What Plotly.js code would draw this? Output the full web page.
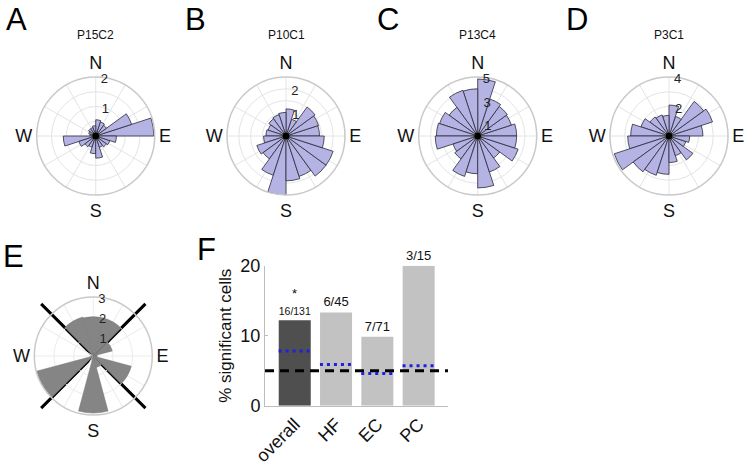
<!DOCTYPE html>
<html><head><meta charset="utf-8">
<script src="https://cdn.plot.ly/plotly-3.0.1.min.js"></script>
<style>html,body{margin:0;padding:0;background:#fff}#chart{width:749px;height:465px}</style>
</head><body><div id="chart"></div>
<script>
// ---------- data ----------
// 20 bins of 18 deg, counter-clockwise from East (bin k spans 18k..18k+18)
const binCenters20 = [9,27,45,63,81,99,117,135,153,171,189,207,225,243,261,279,297,315,333,351];
const countsA = [1.97,1.28,0.45,0.5,0.55,0.35,0.3,0.3,0.25,0.2,1.1,0.6,0.45,0.4,0.6,0.75,0.4,0.45,0.5,0.7];
const countsB = [1.42,1.45,1.52,0.75,1.15,1.0,0.95,0.9,0.8,0.85,0.95,1.3,1.2,1.75,2.5,1.9,1.8,2.1,2.1,1.62];
const countsC = [3.3,3.0,3.1,3.3,4.83,4.0,4.07,3.0,3.4,3.5,3.6,2.2,2.4,3.6,3.2,4.4,3.2,2.3,3.6,3.3];
const countsD = [2.3,3.1,2.9,1.4,2.1,1.4,1.5,1.6,2.0,2.6,2.8,3.9,3.0,2.8,2.6,1.8,1.4,2.0,1.2,1.4];
// population panel E: 12 bins of 30 deg centred on 0,30,...
const binCenters12 = [0,30,60,90,120,150,180,210,240,270,300,330];
const countsE = [0.2,1.0,2.0,2.0,2.05,0,0,3.0,0,2.9,0.6,2.0];
const crossAngles = [45,225,135,315];
const crossLength = 3.75;

const cellNames = ['P15C2','P10C1','P13C4','P3C1'];
const panelLetters = ['A','B','C','D','E','F'];
const compassText = ['E','N','W','S'];
const compassTheta = [0,90,180,270];

const groups = ['overall','HF','EC','PC'];
const pctSig = [12.21,13.33,9.86,20.0];
const fracLabels = ['16/131','6/45','7/71','3/15'];
const chanceLevels = [7.8,5.9,4.6,5.7];
const alphaLevel = 5;

// ---------- helpers ----------
const FONT = 'Liberation Sans, Arial, sans-serif';
const purple = '#b5b3e4';
function ringTicks(step, max, labelled){
  const v=[],t=[];
  for(let r=step;r<=max+1e-9;r+=step){const q=+r.toFixed(3);v.push(q);t.push(labelled.includes(q)?String(q):'');}
  return {v,t};
}
function polarLayout(dom, max, step, labelled){
  const rt = ringTicks(step,max,labelled);
  const angVals=[],angText=[];
  for(let a=0;a<360;a+=30){angVals.push(a);const i=compassTheta.indexOf(a);angText.push(i>=0?compassText[i]:'');}
  return {
    domain: dom, bgcolor:'rgba(0,0,0,0)',
    radialaxis:{range:[0,max],tickvals:rt.v,ticktext:rt.t,angle:92,showline:false,ticks:'',
      gridcolor:'#e4e4e4',gridwidth:1,tickfont:{family:FONT,size:13,color:'#222'},tickangle:92},
    angularaxis:{tickvals:angVals,ticktext:angText,showline:true,linecolor:'#c9c9c9',linewidth:1.5,
      gridcolor:'#e4e4e4',ticks:'',
      tickfont:{family:FONT,size:18,color:'#111'},rotation:0,direction:'counterclockwise'}
  };
}

const traces = [];
const layout = {
  width:749,height:465,margin:{l:0,r:0,t:0,b:0},paper_bgcolor:'#fff',plot_bgcolor:'#fff',
  showlegend:false,annotations:[],shapes:[]
};
const domains = [
  {x:[0.0490,0.2066],y:[0.5806,0.8344]},
  {x:[0.3031,0.4606],y:[0.5806,0.8344]},
  {x:[0.5590,0.7166],y:[0.5806,0.8344]},
  {x:[0.8144,0.9720],y:[0.5806,0.8344]}
];
const cfg = [
  {data:countsA,max:2,step:0.5,lab:[1,2]},
  {data:countsB,max:2.5,step:0.5,lab:[1,2]},
  {data:countsC,max:5,step:1,lab:[1,3,5]},
  {data:countsD,max:4,step:1,lab:[2,4]}
];
cfg.forEach((c,i)=>{
  const key = 'polar'+(i===0?'':(i+1));
  layout[key] = polarLayout(domains[i],c.max,c.step,c.lab);
  traces.push({type:'barpolar',subplot:key,r:c.data,theta:binCenters20,width:binCenters20.map(()=>18),
    marker:{color:purple,line:{color:'#2b2b3a',width:0.8}},hoverinfo:'skip'});
  traces.push({type:'scatterpolar',subplot:key,r:[0],theta:[0],mode:'markers',
    marker:{size:8,color:'#000',line:{color:'#555',width:1}},hoverinfo:'skip'});
  const cx = (domains[i].x[0]+domains[i].x[1])/2;
  layout.annotations.push({text:cellNames[i],x:cx,y:1-35/465,xref:'paper',yref:'paper',showarrow:false,
    font:{family:FONT,size:12,color:'#111'},xanchor:'center',yanchor:'middle'});
});
// Panel E
const domE = {x:[0.0458,0.2033],y:[0.1075,0.3613]};
layout.polar5 = polarLayout(domE,3,1,[1,2,3]);
layout.polar5.angularaxis.gridcolor='#ececec';
layout.polar5.radialaxis.gridcolor='#ececec';
traces.push({type:'barpolar',subplot:'polar5',r:countsE,theta:binCenters12,width:binCenters12.map(()=>30),
  marker:{color:'#858585',line:{color:'#777',width:0.5}},hoverinfo:'skip'});
// X lines over panel E (overlay cartesian axes with same scale as polar E)
const toRad = Math.PI/180;
for(let k=0;k<2;k++){
  const a1=crossAngles[2*k], a2=crossAngles[2*k+1];
  traces.push({type:'scatter',xaxis:'x3',yaxis:'y3',mode:'lines',
    x:[crossLength*Math.cos(a1*toRad),crossLength*Math.cos(a2*toRad)],
    y:[crossLength*Math.sin(a1*toRad),crossLength*Math.sin(a2*toRad)],
    line:{color:'#000',width:3},hoverinfo:'skip',cliponaxis:false});
}
layout.xaxis3 = {domain:domE.x,range:[-3,3],visible:false,anchor:'y3',fixedrange:true};
layout.yaxis3 = {domain:domE.y,range:[-3,3],visible:false,anchor:'x3',fixedrange:true};

// Panel F bars
const xIdx = groups.map((g,i)=>i);
traces.push({type:'bar',xaxis:'x',yaxis:'y',x:xIdx,y:pctSig,width:0.775,
  marker:{color:['#4f4f4f','#c2c2c2','#c2c2c2','#c2c2c2']},
  text:fracLabels,textposition:'outside',cliponaxis:false,
  textfont:{family:FONT,size:13,color:'#111'},hoverinfo:'skip'});
// alpha threshold dashed line
traces.push({type:'scatter',xaxis:'x',yaxis:'y',mode:'lines',x:[-0.72,3.71],y:[alphaLevel,alphaLevel],
  line:{color:'#000',width:3,dash:'9px,6px'},hoverinfo:'skip',cliponaxis:false});
// chance levels (blue dotted)
groups.forEach((g,i)=>{
  traces.push({type:'scatter',xaxis:'x',yaxis:'y',mode:'lines',x:[i-0.39,i+0.39],y:[chanceLevels[i],chanceLevels[i]],
    line:{color:'#1f1fe0',width:3,dash:'3px,4px'},hoverinfo:'skip'});
});
layout.xaxis = {domain:[0.3538,0.5981],range:[-0.72,3.71],anchor:'y',tickvals:xIdx,ticktext:groups,tickangle:-45,
  showline:true,linecolor:'#bdbdbd',linewidth:1,ticks:'',showgrid:false,zeroline:false,
  tickfont:{family:FONT,size:18,color:'#111'},fixedrange:true};
layout.yaxis = {domain:[0.1275,0.4286],range:[0,20],anchor:'x',tickvals:[0,10,20],showline:true,linecolor:'#bdbdbd',
  linewidth:1,ticks:'inside',ticklen:3,tickcolor:'#bdbdbd',showgrid:false,zeroline:false,
  tickfont:{family:FONT,size:18,color:'#111'},
  title:{text:'% significant cells',font:{family:FONT,size:17,color:'#111'},standoff:4},fixedrange:true};
layout.annotations.push({text:'*',x:0,y:16.0,xref:'x',yref:'y',showarrow:false,
  font:{family:FONT,size:13,color:'#111'}});

// panel letters
const letterPos = [[16,20],[196,20],[388,20],[577,20],[13,256],[206,250]];
panelLetters.forEach((L,i)=>{
  layout.annotations.push({text:L,x:letterPos[i][0]/749,y:1-letterPos[i][1]/465,xref:'paper',yref:'paper',
    showarrow:false,font:{family:FONT,size:31,color:'#000'},xanchor:'center',yanchor:'middle'});
});

Plotly.newPlot('chart',traces,layout,{staticPlot:true,displayModeBar:false});
</script></body></html>
